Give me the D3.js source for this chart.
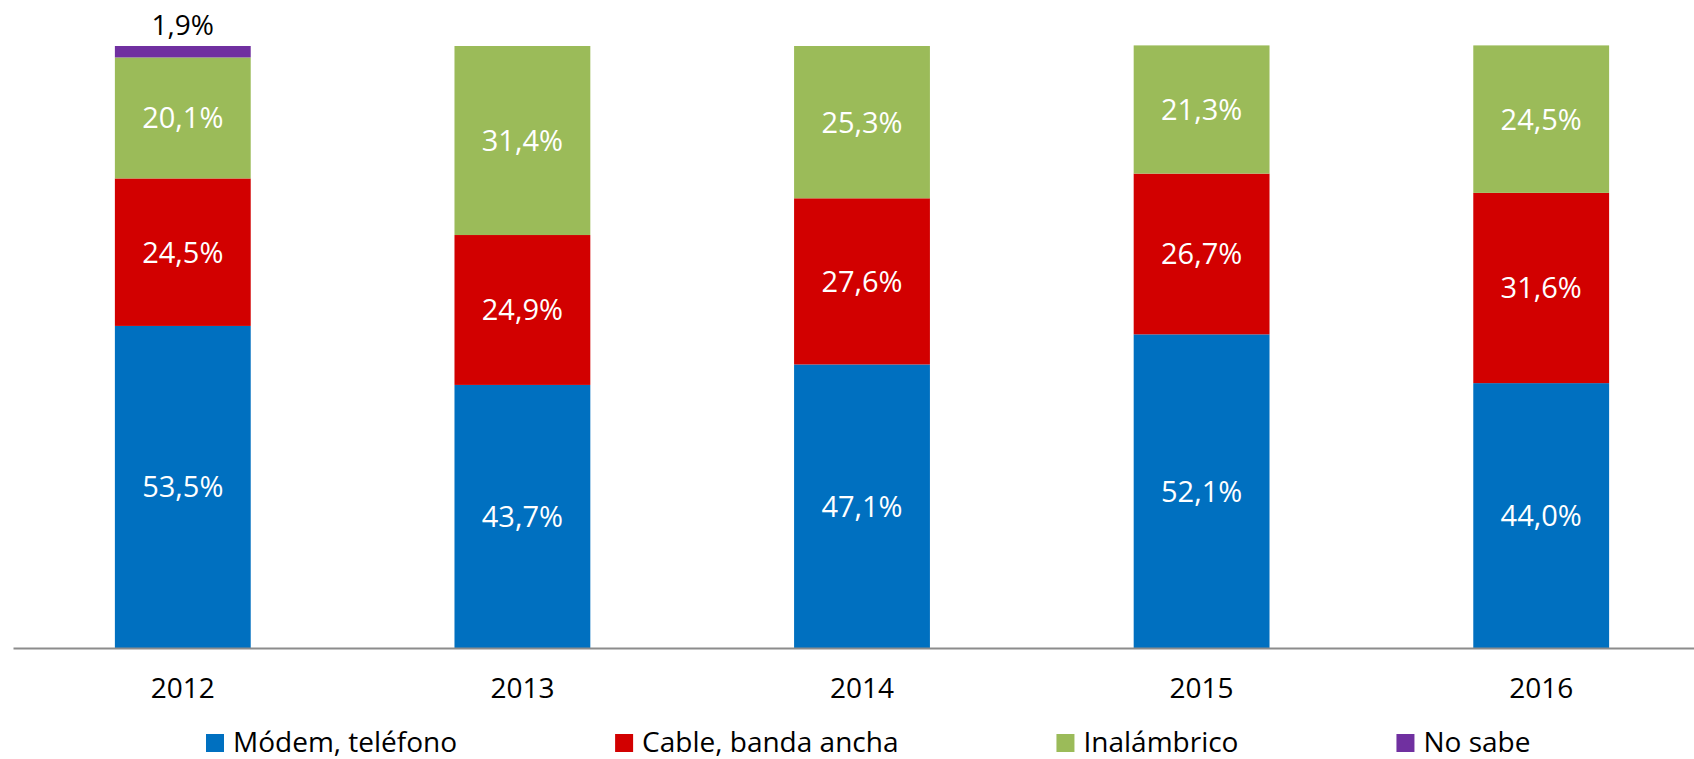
<!DOCTYPE html>
<meta charset="utf-8">
<style>
    body { margin: 0; background: #fff; }
    svg text { font-family: "Open Sans", sans-serif; }
</style>
<script src="https://d3js.org/d3.v7.min.js"></script>
<div id="chart"></div>
<script>
    // data
    var years = ["2012", "2013", "2014", "2015", "2016"];
    var modem = [53.5, 43.7, 47.1, 52.1, 44.0];
    var cable = [24.5, 24.9, 27.6, 26.7, 31.6];
    var inalambrico = [20.1, 31.4, 25.3, 21.3, 24.5];
    var noSabe = [1.9, 0, 0, 0, 0];

    var seriesNames = ["Módem, teléfono", "Cable, banda ancha", "Inalámbrico", "No sabe"];
    var seriesKeys = ["modem", "cable", "inalambrico", "noSabe"];
    var colors = ["#0070C0", "#D20000", "#9BBB59", "#7030A0"];

    var width = 1694, height = 759;

    // build rows for the stack layout
    var rows = years.map(function (y, i) {
        return { year: y, modem: modem[i], cable: cable[i], inalambrico: inalambrico[i], noSabe: noSabe[i] };
    });

    var svg = d3.select("#chart").append("svg")
        .attr("width", width)
        .attr("height", height);

    var x = d3.scaleBand()
        .domain(years)
        .range([13, 1711])
        .paddingInner(0.6)
        .paddingOuter(0.3);

    var y = d3.scaleLinear()
        .domain([0, 100])
        .range([648, 46]);

    var stacked = d3.stack().keys(seriesKeys)(rows);

    // bars
    var layers = svg.selectAll("g.layer")
        .data(stacked)
        .enter().append("g")
        .attr("class", "layer")
        .attr("fill", function (d, i) { return colors[i]; });

    layers.selectAll("rect")
        .data(function (d) { return d; })
        .enter().append("rect")
        .filter(function (d) { return d[1] - d[0] > 0; })
        .attr("x", function (d) { return x(d.data.year); })
        .attr("width", x.bandwidth())
        .attr("y", function (d) { return y(d[1]); })
        .attr("height", function (d) { return y(d[0]) - y(d[1]); });

    // value labels
    stacked.forEach(function (layer, li) {
        layer.forEach(function (d) {
            var v = d[1] - d[0];
            if (v <= 0) return;
            var label = v.toFixed(1).replace(".", ",") + "%";
            var cx = x(d.data.year) + x.bandwidth() / 2;
            if (seriesKeys[li] === "noSabe") {
                // small segment: label above the bar
                svg.append("text")
                    .attr("x", cx)
                    .attr("y", y(d[1]) - 11)
                    .attr("text-anchor", "middle")
                    .style("font-size", "28px")
                    .style("fill", "#000")
                    .text(label);
            } else {
                svg.append("text")
                    .attr("x", cx)
                    .attr("y", (y(d[0]) + y(d[1])) / 2)
                    .attr("dy", "0.36em")
                    .attr("text-anchor", "middle")
                    .style("font-size", "29px")
                    .style("fill", "#fff")
                    .text(label);
            }
        });
    });

    // x axis
    var xAxis = svg.append("g")
        .attr("transform", "translate(0,648)")
        .call(d3.axisBottom(x).tickSize(0).tickPadding(30));
    xAxis.select(".domain")
        .attr("stroke", "#8c8c8c")
        .attr("stroke-width", 2);
    xAxis.selectAll("text")
        .style("font-family", "'Open Sans', sans-serif")
        .style("font-size", "28px")
        .style("fill", "#000");

    // legend
    var legend = svg.append("g").attr("class", "legend");
    var lx = 206;
    seriesNames.forEach(function (name, i) {
        legend.append("rect")
            .attr("x", lx)
            .attr("y", 734)
            .attr("width", 18)
            .attr("height", 18)
            .attr("fill", colors[i]);
        var t = legend.append("text")
            .attr("x", lx + 27)
            .attr("y", 752)
            .style("font-size", "28px")
            .style("fill", "#000")
            .text(name);
        lx = lx + 27 + t.node().getComputedTextLength() + 158;
    });
</script>
